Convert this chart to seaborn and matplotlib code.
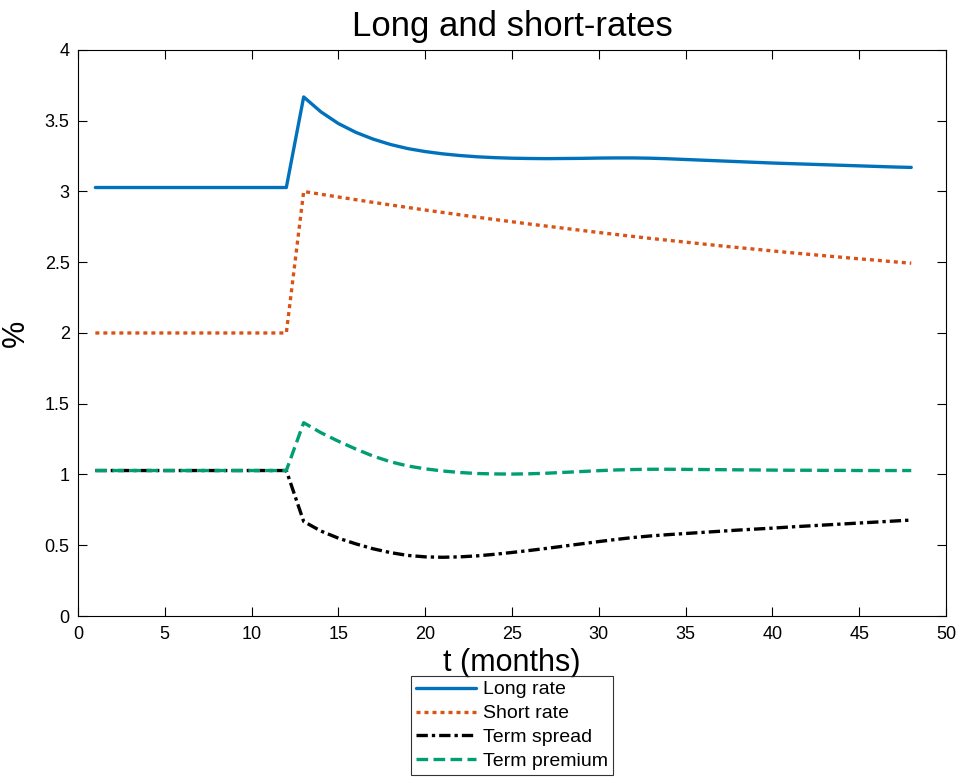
import matplotlib
matplotlib.use("Agg")
import matplotlib.pyplot as plt
import seaborn as sns
import pandas as pd
import numpy as np

months = list(range(1, 49))
pre = 12
long_rate = [3.028] * pre + [3.668, 3.562, 3.480, 3.418, 3.370, 3.332, 3.303, 3.282, 3.266, 3.254,
                             3.245, 3.239, 3.235, 3.233, 3.232, 3.233, 3.234, 3.236, 3.237, 3.237,
                             3.235, 3.231, 3.226, 3.221, 3.216, 3.211, 3.206, 3.201, 3.197, 3.193,
                             3.189, 3.185, 3.181, 3.177, 3.173, 3.170]
short_rate = [2.0] * pre + [3.000, 2.980, 2.961, 2.942, 2.923, 2.905, 2.887, 2.869, 2.852, 2.835,
                            2.818, 2.802, 2.786, 2.770, 2.755, 2.740, 2.725, 2.710, 2.696, 2.682,
                            2.668, 2.655, 2.642, 2.629, 2.616, 2.604, 2.592, 2.580, 2.568, 2.557,
                            2.546, 2.535, 2.524, 2.514, 2.503, 2.493]
term_spread = [1.028] * pre + [0.668, 0.600, 0.550, 0.510, 0.475, 0.448, 0.428, 0.418, 0.415, 0.418,
                               0.425, 0.436, 0.449, 0.463, 0.478, 0.494, 0.510, 0.526, 0.541, 0.555,
                               0.566, 0.575, 0.583, 0.591, 0.599, 0.607, 0.614, 0.621, 0.629, 0.636,
                               0.643, 0.650, 0.657, 0.664, 0.671, 0.678]
term_premium = [1.028] * pre + [1.366, 1.295, 1.235, 1.180, 1.130, 1.090, 1.060, 1.040, 1.025, 1.014,
                                1.007, 1.004, 1.003, 1.005, 1.009, 1.015, 1.021, 1.027, 1.032, 1.035,
                                1.037, 1.037, 1.036, 1.035, 1.034, 1.033, 1.032, 1.031, 1.030, 1.030,
                                1.029, 1.029, 1.028, 1.028, 1.028, 1.028]

series_names = ["Long rate", "Short rate", "Term spread", "Term premium"]
series_vals = [long_rate, short_rate, term_spread, term_premium]
colors = ["#0072BD", "#D95319", "#000000", "#009E73"]
dash_styles = [None, (1.2, 1.2), (3.4, 1.2, 1.0, 1.2), (3.5, 1.6)]

sns.set_style("ticks")
plt.rcParams['font.family'] = ['Liberation Sans', 'DejaVu Sans']
plt.rcParams['text.color'] = 'black'
plt.rcParams['axes.labelcolor'] = 'black'

fig = plt.figure(figsize=(9.56, 7.77), dpi=100)
ax = fig.add_axes([0.0816, 0.2072, 0.9079, 0.7285])

for name, vals, c, d in zip(series_names, series_vals, colors, dash_styles):
    df = pd.DataFrame({"t": months, "v": vals})
    line_ax = sns.lineplot(data=df, x="t", y="v", ax=ax, color=c, linewidth=2.4, label=name)
    ln = line_ax.get_lines()[-1]
    if d is not None:
        ln.set_dashes(d)
        ln.set_dash_capstyle("butt")

ax.set_xlim(0, 50)
ax.set_ylim(0, 4)
ax.set_xticks(np.arange(0, 51, 5))
ax.set_yticks(np.arange(0, 4.01, 0.5))
ax.set_yticklabels(["0", "0.5", "1", "1.5", "2", "2.5", "3", "3.5", "4"])
ax.tick_params(direction="in", length=6.5, width=0.8, top=True, right=True, labelsize=13,
               colors="black")
ax.tick_params(axis="x", pad=7)
ax.tick_params(axis="y", pad=6)
for s in ax.spines.values():
    s.set_visible(True)
    s.set_linewidth(0.8)
    s.set_color("black")

ax.set_title("Long and short-rates", fontsize=25, pad=10)
ax.set_xlabel("t (months)", fontsize=22, labelpad=4)
ax.set_ylabel("%", fontsize=22, labelpad=10)

leg = ax.legend(loc="upper center", bbox_to_anchor=(0.5, -0.106), fontsize=14, frameon=True,
                fancybox=False, edgecolor="black", handlelength=3.1, borderpad=0.25,
                labelspacing=0.32, handletextpad=0.35, borderaxespad=0)
leg.get_frame().set_linewidth(0.8)

fig.savefig("out.png", dpi=100)
